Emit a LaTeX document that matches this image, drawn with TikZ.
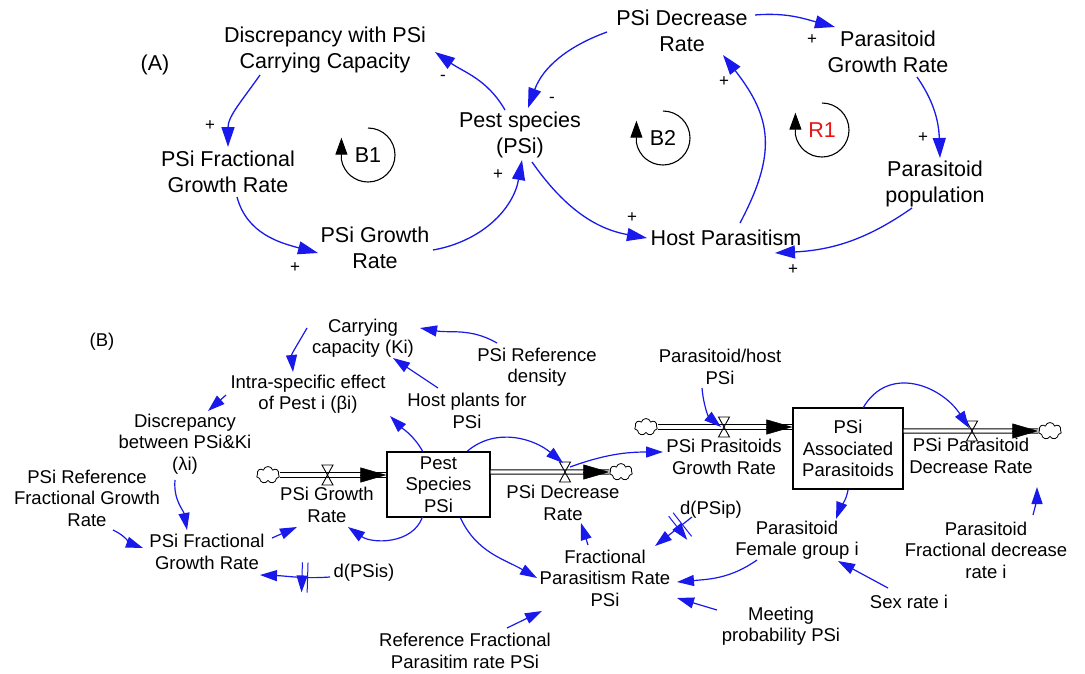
\documentclass[tikz,border=0pt]{standalone}
\usepackage{fontspec}
\setmainfont{Liberation Sans}
\usetikzlibrary{arrows.meta,shapes.symbols,calc,decorations.markings}
\definecolor{cblue}{RGB}{25,25,235}
\definecolor{cred}{RGB}{235,20,20}
\begin{document}
\begin{tikzpicture}[x=1pt,y=1pt,
  lblA/.style={font=\fontsize{21.5}{26}\selectfont, align=center, inner sep=1pt},
  lblB/.style={font=\fontsize{18.5}{21.5}\selectfont, align=center, inner sep=1pt},
  sgn/.style={font=\fontsize{17}{17}\selectfont, inner sep=0pt},
  connA/.style={draw=cblue, line width=1.3pt, -{Triangle[length=20pt,width=13pt]}},
  connB/.style={draw=cblue, line width=1.2pt, -{Triangle[length=17pt,width=11pt]}},
  delaymark/.style={postaction={decorate}, decoration={markings, mark=at position #1 with {\draw[cblue, line width=1pt] (-2.8pt,-15pt) -- (-2.8pt,15pt) (2.8pt,-15pt) -- (2.8pt,15pt);}}},
  pipe/.style={draw=black, double=white, double distance=3.2pt, line width=1pt},
  pipetip/.style={-{Triangle[length=26pt,width=15pt]}, line width=0.5pt, black},
  stock/.style={draw, line width=1.2pt, align=center, font=\fontsize{18.5}{21.5}\selectfont, inner sep=0pt},
  cloudn/.style={cloud, cloud puffs=7, cloud ignores aspect, draw, line width=0.8pt, minimum width=23pt, minimum height=17pt, inner sep=0pt},
  loopar/.style={draw=black, line width=1.1pt, -{Triangle[length=17pt,width=12pt]}},
  valve/.pic={\draw[line width=0.9pt] (-5.5pt,10pt) -- (5.5pt,10pt) -- (-5.5pt,-10pt) -- (5.5pt,-10pt) -- cycle;}
]
\fill[white] (0,0) rectangle (1085,-673);
\useasboundingbox (0,0) rectangle (1085,-673);

% ---------------- Part A ----------------
\node[lblA] (Alab) at (155,-65) {(A)};
\node[lblA] (disc) at (325,-50) {Discrepancy with PSi\\Carrying Capacity};
\node[lblA] (psdec) at (682,-31) {PSi Decrease\\Rate};
\node[lblA] (pgr) at (888,-52) {Parasitoid\\Growth Rate};
\node[lblA] (pest) at (520,-135) {Pest species\\(PSi)};
\node[lblA] (pfgr) at (228,-172) {PSi Fractional\\Growth Rate};
\node[lblA] (pgrA) at (375,-248) {PSi Growth\\Rate};
\node[lblA] (pp) at (935,-184) {Parasitoid\\population};
\node[lblA] (hp) at (726,-238) {Host Parasitism};

\node[lblA] (b1) at (368,-155) {B1};
\node[lblA] (b2) at (663,-138) {B2};
\node[lblA, text=cred] (r1) at (822,-130) {R1};
\draw[loopar] ([shift={(90:27)}]b1.center) arc[start angle=90, end angle=-170, radius=27] -- ++(0,22);
\draw[loopar] ([shift={(90:27)}]b2.center) arc[start angle=90, end angle=-170, radius=27] -- ++(0,22);
\draw[loopar] ([shift={(90:27)}]r1.center) arc[start angle=90, end angle=-170, radius=27] -- ++(0,22);

\draw[connA] ([shift={(-15,25)}]pest.center) to[out=120,in=-35] ([shift={(110,-2)}]disc.center);
\draw[connA] ([shift={(-65,-25)}]disc.center) to[out=-125,in=90] ([shift={(0,25)}]pfgr.center);
\draw[connA] ([shift={(9,-25)}]pfgr.center) to[out=-75,in=165] ([shift={(-57,-5)}]pgrA.center);
\draw[connA] ([shift={(58,-2)}]pgrA.center) to[out=10,in=-100] ([shift={(2,-25)}]pest.center);
\draw[connA] ([shift={(-75,-1)}]psdec.center) to[out=200,in=70] ([shift={(8,27)}]pest.center);
\draw[connA] ([shift={(12,-27)}]pest.center) to[out=-55,in=170] ([shift={(-79,0)}]hp.center);
\draw[connA] ([shift={(14,15)}]hp.center) to[out=62,in=-52,looseness=1.2] ([shift={(41,-24)}]psdec.center);
\draw[connA] ([shift={(73,16)}]psdec.center) to[out=5,in=165] ([shift={(-53,25)}]pgr.center);
\draw[connA] ([shift={(29,-25)}]pgr.center) to[out=-55,in=92] ([shift={(5,26)}]pp.center);
\draw[connA] ([shift={(-23,-24)}]pp.center) to[out=-145,in=3] ([shift={(49,-15)}]hp.center);

\node[sgn] (s1) at (443,-78) {-};
\node[sgn] (s2) at (210,-126) {+};
\node[sgn] (s3) at (295,-268) {+};
\node[sgn] (s4) at (498,-175) {+};
\node[sgn] (s5) at (552,-100) {-};
\node[sgn] (s6) at (632,-218) {+};
\node[sgn] (s7) at (724,-82) {+};
\node[sgn] (s8) at (812,-40) {+};
\node[sgn] (s9) at (923,-138) {+};
\node[sgn] (s10) at (793,-270) {+};

% ---------------- Part B ----------------
\node[lblB] (Blab) at (102,-342) {(B)};
\node[lblB] (cc) at (363,-338) {Carrying\\capacity (Ki)};
\node[lblB] (ise) at (308,-394) {Intra-specific effect\\of Pest i (βi)};
\node[lblB] (prd) at (537,-367) {PSi Reference\\density};
\node[lblB] (hpl) at (467,-411) {Host plants for\\PSi};
\node[lblB] (dbk) at (185,-444) {Discrepancy\\between PSi\&Ki\\(λi)};
\node[lblB] (prfgr) at (87,-498) {PSi Reference\\Fractional Growth\\Rate};
\node[lblB] (psgr) at (327,-505) {PSi Growth\\Rate};
\node[stock, minimum width=103pt, minimum height=65pt] (pestbox) at (438.5,-484.5) {Pest\\Species\\PSi};
\node[lblB] (psdecB) at (563,-503) {PSi Decrease\\Rate};
\node[lblB] (pfgrB) at (207,-552) {PSi Fractional\\Growth Rate};
\node[lblB] (dpsis) at (364,-573) {d(PSis)};
\node[lblB] (fpr) at (605,-578) {Fractional\\Parasitism Rate\\PSi};
\node[lblB] (dpsip) at (711,-510) {d(PSip)};
\node[lblB] (phpsi) at (720,-367) {Parasitoid/host\\PSi};
\node[lblB] (ppgr) at (724,-457) {PSi Prasitoids\\Growth Rate};
\node[stock, minimum width=110pt, minimum height=81pt] (pap) at (848,-448.5) {PSi\\Associated\\Parasitoids};
\node[lblB] (ppdr) at (971,-456) {PSi Parasitoid\\Decrease Rate};
\node[lblB] (pfg) at (797,-540) {Parasitoid\\Female group i};
\node[lblB] (pfdr) at (986,-550) {Parasitoid\\Fractional decrease\\rate i};
\node[lblB] (sex) at (909,-602) {Sex rate i};
\node[lblB] (meet) at (781,-626) {Meeting\\probability PSi};
\node[lblB] (rfp) at (465,-651) {Reference Fractional\\Parasitim rate PSi};

% clouds and valves
\node[cloudn] (c1) at (268,-475) {};
\node[cloudn] (c2) at (621,-472) {};
\node[cloudn] (c3) at (646,-427) {};
\node[cloudn] (c4) at (1050,-431) {};
\coordinate (v1) at (327.5,-475);
\coordinate (v2) at (565,-472);
\coordinate (v3) at (724,-427);
\coordinate (v4) at (972,-431);

% pipes (flows)
\draw[pipe] (c1.east) -- (c1.east -| pestbox.west);
\draw[pipetip] ($(c1.east -| pestbox.west)+(-26,0)$) -- (c1.east -| pestbox.west);
\draw[pipe] (pestbox.east |- v2) -- (c2.west);
\draw[pipetip] ($(c2.west)+(-26,0)$) -- (c2.west);
\draw[pipe] (c3.east) -- (c3.east -| pap.west);
\draw[pipetip] ($(c3.east -| pap.west)+(-26,0)$) -- (c3.east -| pap.west);
\draw[pipe] (pap.east |- v4) -- (c4.west);
\draw[pipetip] ($(c4.west)+(-26,0)$) -- (c4.west);
\pic at (v1) {valve};
\pic at (v2) {valve};
\pic at (v3) {valve};
\pic at (v4) {valve};

% connectors
\draw[connB] ([shift={(-40,24)}]prd.center) to[out=150,in=-10] ([shift={(57,10)}]cc.center);
\draw[connB] ([shift={(-29,23)}]hpl.center) -- ([shift={(30,-20)}]cc.center);
\draw[connB] ([shift={(-56,10)}]cc.center) to[out=-120,in=95] ([shift={(-15,22)}]ise.center);
\draw[connB] ([shift={(-82,-1)}]ise.center) -- ([shift={(23,33)}]dbk.center);
\draw[connB] ([shift={(-10,-36)}]dbk.center) to[out=-95,in=100] ([shift={(-20,22)}]pfgrB.center);
\draw[connB] ([shift={(26,-32)}]prfgr.center) to[out=-25,in=160] ([shift={(-64,4)}]pfgrB.center);
\draw[connB] ([shift={(65,14)}]pfgrB.center) -- ([shift={(-30,-22)}]psgr.center);
\draw[connB, delaymark=0.36] ([shift={(-34,-4)}]dpsis.center) to[out=184,in=-2] ([shift={(53,-23)}]pfgrB.center);
\draw[connB] ([shift={(-16,-32.5)}]pestbox.center) to[out=-110,in=-35] ([shift={(21,-22)}]psgr.center);
\draw[connB] ([shift={(-16,33.5)}]pestbox.center) to[out=120,in=-45] ([shift={(82,-22)}]ise.center);
\draw[connB] ([shift={(29,33.5)}]pestbox.center) to[out=40,in=140] ([shift={(-2,9)}]v2);
\draw[connB] ([shift={(5,5)}]v2) to[out=20,in=180] ([shift={(-61,5)}]ppgr.center);
\draw[connB] ([shift={(22,-33.5)}]pestbox.center) to[out=-65,in=150] ([shift={(-68,0)}]fpr.center);
\draw[connB] ([shift={(-17,33)}]fpr.center) -- ([shift={(18,-20)}]psdecB.center);
\draw[connB, delaymark=0.32] ([shift={(-19,-7)}]dpsip.center) -- ([shift={(50,32)}]fpr.center);
\draw[connB] ([shift={(-40,-20)}]pfg.center) to[out=-145,in=5] ([shift={(72,-4)}]fpr.center);
\draw[connB] ([shift={(-64,16)}]meet.center) -- ([shift={(72,-20)}]fpr.center);
\draw[connB] ([shift={(42,23)}]rfp.center) -- ([shift={(-63,-33)}]fpr.center);
\draw[connB] ([shift={(-18,-21)}]phpsi.center) to[out=-85,in=140] ([shift={(-3,0)}]v3);
\draw[connB] ([shift={(15,40.5)}]pap.center) to[out=60,in=123,looseness=1.2] ([shift={(-3,3)}]v4);
\draw[connB] ([shift={(0,-41.5)}]pap.center) to[out=-100,in=70] ([shift={(39,21)}]pfg.center);
\draw[connB] ([shift={(-21,14)}]sex.center) -- ([shift={(41,-21)}]pfg.center);
\draw[connB] ([shift={(47,35)}]pfdr.center) to[out=75,in=-90] ([shift={(66,-31)}]ppdr.center);
\end{tikzpicture}
\end{document}
